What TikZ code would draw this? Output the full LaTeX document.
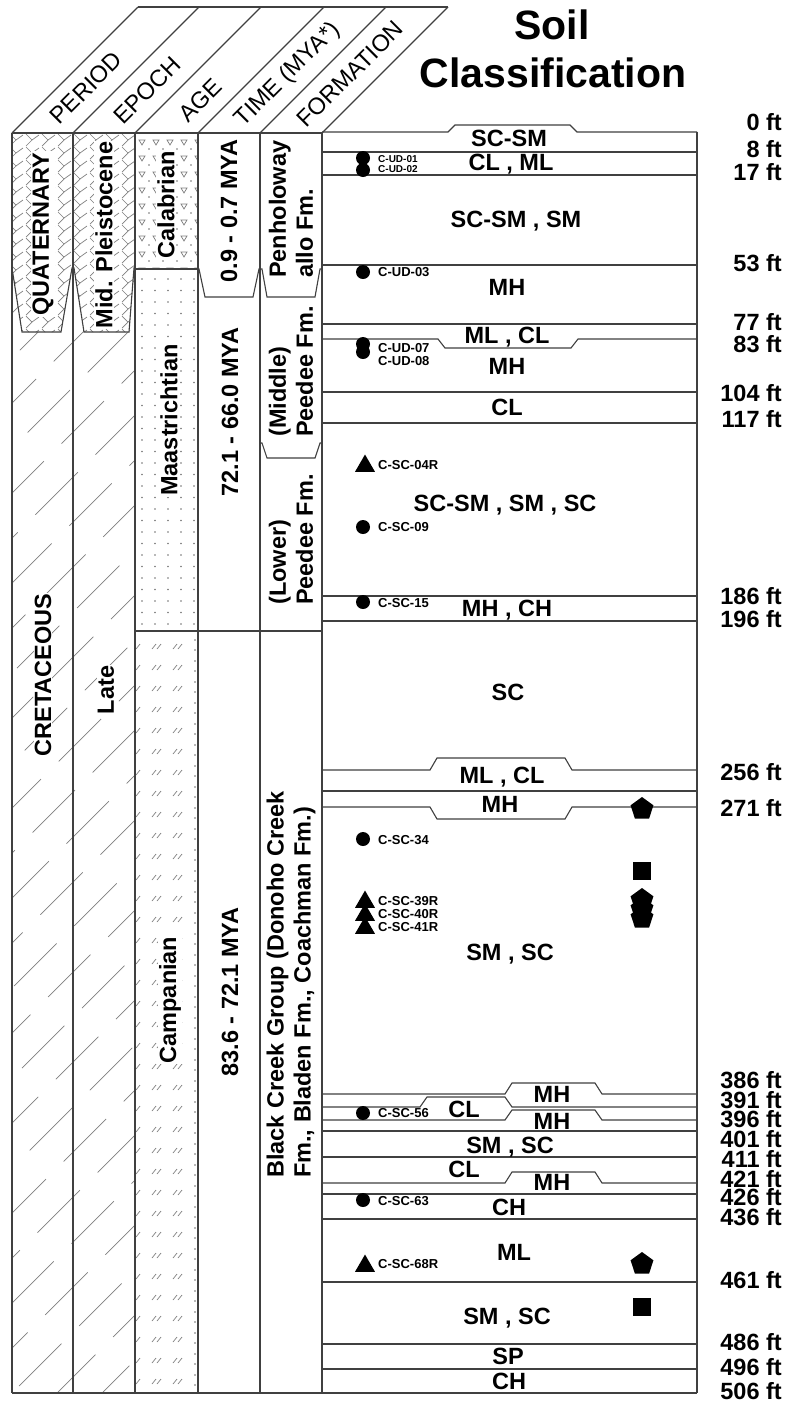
\documentclass[tikz,border=0pt]{standalone}
\usepackage{fontspec}
\setmainfont{Liberation Sans}
\usetikzlibrary{shapes.geometric}

\newcommand{\soilline}[4]{\draw[rule] (322,#1) -- (#2,#1) -- ++(7,#4) -- ++({#3-#2-14},0) -- (#3,#1) -- (697,#1);}

\begin{document}
\begin{tikzpicture}[x=1pt, y=-1pt,
    rule/.style={black!75, line width=1.1pt},
    hatch/.style={black!50, line width=0.7pt},
    headtxt/.style={rotate=45, inner sep=0pt, font=\fontsize{23.5}{25}\selectfont},
    unittxt/.style={rotate=90, inner sep=1pt, fill=white, align=left, font=\bfseries\fontsize{23.5}{27}\selectfont},
    soiltxt/.style={inner sep=0pt, text height=17pt, text depth=0pt, font=\bfseries\fontsize{23.5}{25}\selectfont},
    depthtxt/.style={anchor=east, inner sep=0pt, text height=17pt, text depth=0pt, font=\bfseries\fontsize{23.5}{25}\selectfont},
    smptxt/.style={anchor=west, inner sep=0pt, font=\bfseries\fontsize{13}{14}\selectfont},
    core/.style={circle, fill=black, minimum size=14pt, inner sep=0pt},
    rockcore/.style={regular polygon, regular polygon sides=3, fill=black, minimum size=23pt, inner sep=0pt},
    penta/.style={regular polygon, regular polygon sides=5, fill=black, minimum size=24pt, inner sep=0pt},
    sqmark/.style={rectangle, fill=black, minimum size=18pt, inner sep=0pt}]
  \useasboundingbox (0,0) rectangle (790,1406);
  \fill[white] (0,0) rectangle (790,1406);

  % cretaceous hatch
  \begin{scope}
    \clip (12,268) rectangle (135,1393);
    \foreach \k [evaluate=\k as \ph using {mod(\k*37,85)}] in {0,...,32}
      \draw[hatch, dash pattern=on 60pt off 25pt, dash phase=\ph pt] (12,{268+\k*45}) -- ++(123,-123);
  \end{scope}
  \fill[white] (12,133) -- (73,133) -- (73,268) -- (72,268) -- (61,332) -- (22,332) -- (12,268) -- cycle;
  \fill[white] (73,133) -- (135,133) -- (135,268) -- (134,268) -- (129,332) -- (84,332) -- (74,268) -- (73,268) -- cycle;
  \begin{scope}
    \clip (12,133) -- (73,133) -- (73,268) -- (72,268) -- (61,332) -- (22,332) -- (12,268) -- cycle
          (73,133) -- (135,133) -- (135,268) -- (134,268) -- (129,332) -- (84,332) -- (74,268) -- (73,268) -- cycle;
    \foreach \r in {0,...,15} \foreach \c in {0,...,7}
      \draw[hatch] ({10+\c*16},{134+\r*13}) -- ++(6,6) -- ++(-6,6) ++(6,-6) -- ++(7,-5);
  \end{scope}
  \draw[rule] (12,268) -- (22,332) -- (61,332) -- (72,268) -- (74,268) -- (84,332) -- (129,332) -- (134,268) -- (135,268);

  % age patterns
  \begin{scope}
    \clip (135,133) rectangle (198,269);
    \foreach \r in {0,...,8} \foreach \c in {0,...,4}
      \draw[hatch] ({139+\c*14},{140+\r*16}) -- ++(6,0) -- ++(-3,5) -- cycle;
    \foreach \r in {0,...,8} \foreach \c in {0,...,4}
      \fill[black!55] ({149+\c*14},{149+\r*16}) circle (0.9);
  \end{scope}
  \foreach \r in {0,...,30} \foreach \xx in {142,155,168,181,194}
    \fill[black!55] (\xx,{279+\r*11.5}) circle (0.9);
  \foreach \r in {0,...,35} {
    \foreach \xx in {156,177}
      \draw[hatch] ({\xx-4},{649+\r*21}) -- ++(4,-5) ++(1,5) -- ++(4,-5);
    \draw[hatch] (136,{649+\r*21}) -- ++(4,-5);
    \fill[black!55] (195,{640+\r*21}) circle (0.8);
    \fill[black!55] (195,{650+\r*21}) circle (0.8);
  }

  % header
  \foreach \x in {12,73,135,198,260,322}
    \draw[rule] (\x,133) -- ++(126,-126);
  \draw[rule] (138,7) -- (448,7);
  \draw[rule] (12,133) -- (322,133);
  \node[headtxt] (hper) at (86,88) {PERIOD};
  \node[headtxt] (hepo) at (147,90) {EPOCH};
  \node[headtxt] (hage) at (200,100) {AGE};
  \node[headtxt] (htim) at (288,75) {TIME (MYA*)};
  \node[headtxt] (hfor) at (350,74) {FORMATION};
  \node[font=\bfseries\fontsize{41}{44}\selectfont] (soil) at (552,25) {Soil};
  \node[font=\bfseries\fontsize{41}{44}\selectfont] (cls) at (553,73) {Classification};

  % columns
  \foreach \x in {12,73,135,198,260,322}
    \draw[rule] (\x,133) -- (\x,1393);
  \draw[rule] (697,132) -- (697,1393);
  \draw[rule] (12,1393) -- (697,1393);
  \draw[rule] (135,269) -- (198,269);
  \draw[rule] (198,269) -- (199,269) -- (205,297) -- (253,297) -- (259,269) -- (260,269);
  \draw[rule] (260,269) -- (262,269) -- (267,297) -- (315,297) -- (320,269) -- (322,269);
  \draw[rule] (260,443) -- (262,443) -- (267,458) -- (315,458) -- (320,443) -- (322,443);
  \draw[rule] (135,631) -- (322,631);

  \node[unittxt] (quat) at (43,234) {QUATERNARY};
  \node[unittxt] (cret) at (43,675) {CRETACEOUS};
  \node[unittxt] (pleis) at (104,235) {Mid. Pleistocene};
  \node[unittxt] (late) at (106,690) {Late};
  \node[unittxt] (calab) at (166,205) {Calabrian};
  \node[unittxt] (maas) at (169,420) {Maastrichtian};
  \node[unittxt] (camp) at (170,1000) {Campanian};
  \node[unittxt] (tq) at (229,211) {0.9 - 0.7 MYA};
  \node[unittxt] (tm) at (230,412) {72.1 - 66.0 MYA};
  \node[unittxt] (tc) at (230,992) {83.6 - 72.1 MYA};
  \node[unittxt, anchor=west, inner sep=0pt] (penh) at (291,278) {Penholoway\\allo Fm.};
  \node[unittxt, anchor=west, inner sep=0pt] (midp) at (291,437) {(Middle)\\Peedee Fm.};
  \node[unittxt, anchor=west, inner sep=0pt] (lowp) at (291,605) {(Lower)\\Peedee Fm.};
  \node[unittxt, anchor=west, inner sep=0pt] (blkc) at (291,1178) {Black Creek Group (Donoho Creek\\Fm., Bladen Fm., Coachman Fm.)};

  % soil layers
  \soilline{132}{448}{577}{-7}
  \soilline{339}{438}{578}{9}
  \soilline{770}{430}{572}{-12}
  \soilline{807}{430}{572}{12}
  \soilline{1094}{505}{602}{-11}
  \soilline{1107}{420}{512}{-10}
  \soilline{1120}{505}{602}{-10}
  \soilline{1183}{505}{602}{-11}
  \foreach \y in {152,175,265,324,392,423,596,621,791,1131,1157,1194,1219,1282,1344,1369}
    \draw[rule] (322,\y) -- (697,\y);

  \node[soiltxt] (s1) at (509,138) {SC-SM};
  \node[soiltxt] (s2) at (511,162) {CL , ML};
  \node[soiltxt] (s3) at (516,219) {SC-SM , SM};
  \node[soiltxt] (s4) at (507,287) {MH};
  \node[soiltxt] (s5) at (507,335) {ML , CL};
  \node[soiltxt] (s6) at (507,366) {MH};
  \node[soiltxt] (s7) at (507,407) {CL};
  \node[soiltxt] (s8) at (505,503) {SC-SM , SM , SC};
  \node[soiltxt] (s9) at (507,608) {MH , CH};
  \node[soiltxt] (s10) at (508,692) {SC};
  \node[soiltxt] (s11) at (502,775) {ML , CL};
  \node[soiltxt] (s12) at (500,804) {MH};
  \node[soiltxt] (s13) at (510,952) {SM , SC};
  \node[soiltxt] (s14) at (552,1094) {MH};
  \node[soiltxt] (s15) at (464,1109) {CL};
  \node[soiltxt] (s16) at (552,1121) {MH};
  \node[soiltxt] (s17) at (510,1145) {SM , SC};
  \node[soiltxt] (s18) at (464,1169) {CL};
  \node[soiltxt] (s19) at (552,1182) {MH};
  \node[soiltxt] (s20) at (509,1207) {CH};
  \node[soiltxt] (s21) at (514,1252) {ML};
  \node[soiltxt] (s22) at (507,1316) {SM , SC};
  \node[soiltxt] (s23) at (508,1356) {SP};
  \node[soiltxt] (s24) at (509,1381) {CH};

  % depths
  \foreach \d/\y in {0/122,8/149,17/172,53/263,77/322,83/344,104/393,117/419,186/596,196/619,256/772,271/808,
                     386/1080,391/1100,396/1119,401/1139,411/1159,421/1179,426/1197,436/1217,461/1280,486/1342,496/1367,506/1391}
    \node[depthtxt] (d\d) at (782,\y) {\d\ ft};

  % samples
  \node[core] (c01) at (363,158) {};
  \node[core] (c02) at (363,170) {};
  \node[smptxt, font=\bfseries\fontsize{10}{11}\selectfont] (l01) at (378,159) {C-UD-01};
  \node[smptxt, font=\bfseries\fontsize{10}{11}\selectfont] (l02) at (378,169) {C-UD-02};
  \node[core] (c03) at (363,272) {};
  \node[smptxt] (l03) at (378,272) {C-UD-03};
  \node[core] (c07) at (363,344) {};
  \node[core] (c08) at (363,352) {};
  \node[smptxt] (l07) at (378,348) {C-UD-07};
  \node[smptxt] (l08) at (378,361) {C-UD-08};
  \node[rockcore] (r04) at (365,466) {};
  \node[smptxt] (l04) at (378,465) {C-SC-04R};
  \node[core] (c09) at (363,527) {};
  \node[smptxt] (l09) at (378,527) {C-SC-09};
  \node[core] (c15) at (363,602) {};
  \node[smptxt] (l15) at (378,603) {C-SC-15};
  \node[core] (c34) at (363,839) {};
  \node[smptxt] (l34) at (378,840) {C-SC-34};
  \node[rockcore] (r39) at (365,902) {};
  \node[rockcore] (r40) at (365,915) {};
  \node[rockcore] (r41) at (365,928) {};
  \node[smptxt] (l39) at (378,901) {C-SC-39R};
  \node[smptxt] (l40) at (378,914) {C-SC-40R};
  \node[smptxt] (l41) at (378,927) {C-SC-41R};
  \node[core] (c56) at (363,1113) {};
  \node[smptxt] (l56) at (378,1113) {C-SC-56};
  \node[core] (c63) at (363,1200) {};
  \node[smptxt] (l63) at (378,1201) {C-SC-63};
  \node[rockcore] (r68) at (365,1266) {};
  \node[smptxt] (l68) at (378,1264) {C-SC-68R};

  \node[penta] (p1) at (642,809) {};
  \node[sqmark] (q1) at (642,871) {};
  \node[penta] (p2) at (642,900) {};
  \node[penta] (p3) at (642,909) {};
  \node[penta] (p4) at (642,918) {};
  \node[penta] (p5) at (642,1264) {};
  \node[sqmark] (q2) at (642,1307) {};
\end{tikzpicture}
\end{document}
